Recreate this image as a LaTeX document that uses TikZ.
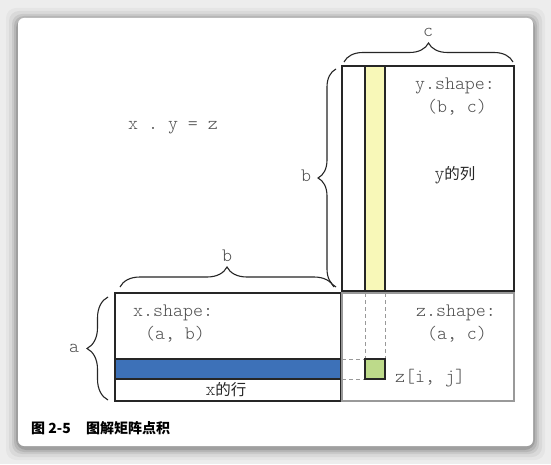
\documentclass[tikz,border=0pt]{standalone}
\usepackage{fontspec}
\setmonofont{Latin Modern Mono Light}
\newfontfamily\cjk{Noto Sans CJK SC}
\usetikzlibrary{decorations.pathreplacing}
\definecolor{ylw}{HTML}{F8F8B8}
\definecolor{blu}{HTML}{3D71B8}
\definecolor{grn}{HTML}{BDDA8A}
\definecolor{txt}{HTML}{505050}
\tikzset{
  mat/.style={draw=black!85, line width=1.2pt},
  zmat/.style={draw=black!40, line width=1.2pt},
  guide/.style={draw=black!40, dashed, dash pattern=on 4pt off 3pt, line width=0.7pt},
  brc/.style={decorate, decoration={brace, amplitude=#1}, line width=1.1pt, black!85},
  lbl/.style={font=\ttfamily\fontsize{19}{19}\selectfont, text=txt, inner sep=0pt},
  cjklbl/.style={font=\cjk\fontsize{15.5}{15.5}\selectfont, text=black!85, inner sep=0pt},
}
\begin{document}
\begin{tikzpicture}[x=1pt,y=1pt]
\useasboundingbox (0,0) rectangle (551,464);
\fill[white!93!black] (0,0) rectangle (551,464);
\foreach \d/\o in {12/0.03,9/0.05,6/0.07,4/0.09,2/0.12}{
  \fill[black,opacity=\o,rounded corners=10pt] (18-\d,18-\d-2) rectangle (533+\d,446+\d-2);
}
\fill[white,rounded corners=6pt] (18,18) rectangle (533,446);
% matrices
\fill[ylw] (365,173) rectangle (385,398);
\draw[mat] (342,173) rectangle (514,398);
\draw[mat] (365,173) -- (365,398) (385,173) -- (385,398);
\draw[zmat] (342,63) rectangle (514,171);
\draw[guide] (365,171) -- (365,105) (385,171) -- (385,105);
\draw[guide] (342,105) -- (365,105) (342,85) -- (365,85);
\filldraw[fill=grn, draw=black!85, line width=1.2pt] (365,85) rectangle (385,105);
\fill[blu] (115,85) rectangle (340.5,105);
\draw[mat] (115,63) rectangle (340.5,171);
\draw[mat] (115,85) -- (340.5,85) (115,105) -- (340.5,105);
% braces
\draw[brc=19] (344,402) -- (513,402);
\draw[brc=18] (336,177) -- (336,395);
\draw[brc=20] (120,177) -- (334,177);
\draw[brc=21] (108,64) -- (108,167);
% labels
\node[lbl] (c) at (428,432) {c};
\node[lbl] (b1) at (306,288) {b};
\node[lbl] (b2) at (227,208) {b};
\node[lbl] (a) at (74,116) {a};
\node[lbl] (eq) at (173,336) {x . y = z};
\node[lbl] (ys) at (455,378) {y.shape:};
\node[lbl] (yd) at (457,357) {(b, c)};
\node[cjklbl] (yc) at (455,289) {\ttfamily\fontsize{19}{19}\selectfont y\cjk\fontsize{15.5}{15.5}\selectfont 的列};
\node[lbl, anchor=west] (xs) at (133,151) {x.shape:};
\node[lbl] (xd) at (175,130) {(a, b)};
\node[cjklbl] (xr) at (226,74) {\ttfamily\fontsize{19}{19}\selectfont x\cjk\fontsize{15.5}{15.5}\selectfont 的行};
\node[lbl] (zs) at (456,151) {z.shape:};
\node[lbl] (zd) at (457,130) {(a, c)};
\node[lbl, anchor=west] (zij) at (395,86) {z[i, j]};
\node[font=\cjk\bfseries\fontsize{14}{14}\selectfont, anchor=west, inner sep=0pt] (cap) at (31,36) {图 2-5\hspace{1.1em}图解矩阵点积};
\end{tikzpicture}
\end{document}
